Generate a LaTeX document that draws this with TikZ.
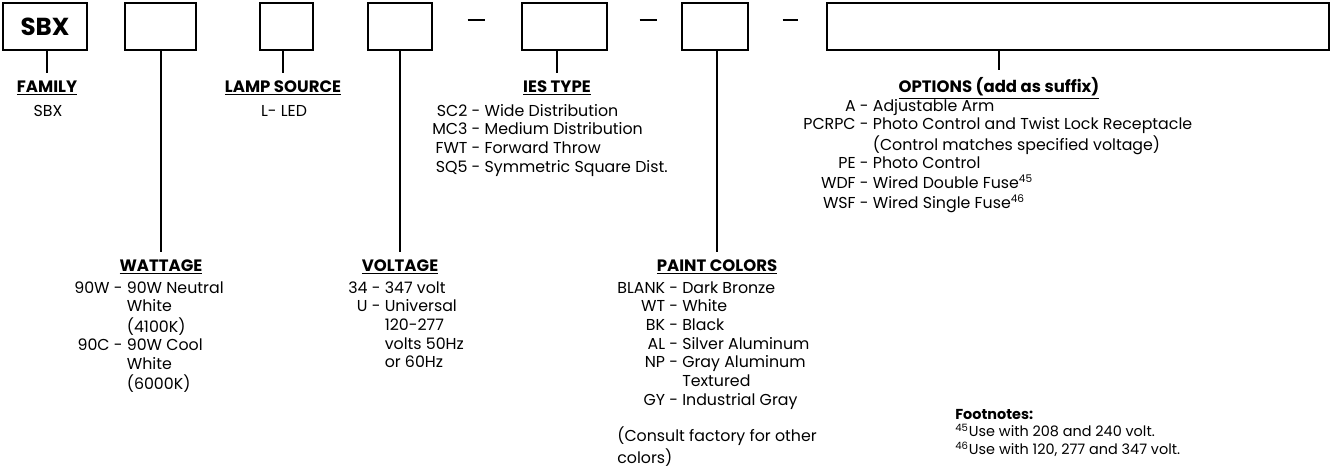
\documentclass[tikz,border=0pt]{standalone}
\usepackage{fontspec}
\setmainfont{Poppins}
\usetikzlibrary{positioning}

\newcommand\listfont{\fontsize{9}{10.66}\selectfont}
\newcommand\hdrfont{\fontsize{9.4}{10}\selectfont\bfseries}
\newcommand\notefont{\fontsize{8.2}{10.2}\selectfont}

\tikzset{
  codebox/.style={draw, line width=1.1pt, minimum height=47*0.02cm, inner sep=0pt},
  hdr/.style={font=\hdrfont, inner xsep=0pt, inner ysep=4pt, anchor=base},
  item/.style={font=\listfont, inner sep=0pt, anchor=base west},
  tick/.style={line width=0.8pt},
  longtick/.style={line width=1.4pt},
  dashmark/.style={inner sep=0pt}
}

\begin{document}
\begin{tikzpicture}[x=0.02cm, y=-0.02cm]
\useasboundingbox (0,0) rectangle (1330,474);

% code boxes
\node[codebox, minimum width=84*0.02cm, font=\fontsize{14}{14}\selectfont\bfseries] (famBox) at (45,26.5) {SBX};
\node[codebox, minimum width=71*0.02cm] (wattBox) at (160.5,26.5) {};
\node[codebox, minimum width=53*0.02cm] (lampBox) at (286.5,26.5) {};
\node[codebox, minimum width=64*0.02cm] (voltBox) at (400,26.5) {};
\node[dashmark] (dashA) at (476,20) {\rule{0.34cm}{0.04cm}};
\node[codebox, minimum width=85*0.02cm] (iesBox) at (564.5,26.5) {};
\node[dashmark] (dashB) at (648,20) {\rule{0.34cm}{0.04cm}};
\node[codebox, minimum width=66*0.02cm] (paintBox) at (715,26.5) {};
\node[dashmark] (dashC) at (790,20) {\rule{0.30cm}{0.04cm}};
\node[codebox, minimum width=502*0.02cm] (optBox) at (1078,26.5) {};

% headings
\node[hdr] (famT) at (47,92) {\underline{FAMILY}};
\node[hdr] (lampT) at (283,92) {\underline{LAMP SOURCE}};
\node[hdr] (iesT) at (557,92) {\underline{IES TYPE}};
\node[hdr] (optT) at (999,92) {\underline{OPTIONS (add as suffix)}};
\node[hdr] (wattT) at (161,271) {\underline{WATTAGE}};
\node[hdr] (voltT) at (400,271) {\underline{VOLTAGE}};
\node[hdr] (paintT) at (717,271) {\underline{PAINT COLORS}};

% connectors
\draw[tick] (famBox.south -| famT.north) -- (famT.north);
\draw[longtick] (wattBox.south -| wattT.north) -- (wattT.north);
\draw[tick] (lampBox.south -| lampT.north) -- (lampT.north);
\draw[longtick] (voltBox.south -| voltT.north) -- (voltT.north);
\draw[longtick] (iesBox.south -| iesT.north) -- (iesT.north);
\draw[tick] (paintBox.south -| paintT.north) -- (paintT.north);
\draw[tick] (optBox.south -| optT.north) -- (optT.north);

% lists
\node[item, anchor=base] (famL) at (48,116) {SBX};
\node[item, anchor=base] (lampL) at (284,116) {L- LED};
\node[item] (iesL) at (432,116) {\begin{tabular}[t]{@{}r@{\ }l@{}}
SC2 - & Wide Distribution\\
MC3 - & Medium Distribution\\
FWT - & Forward Throw\\
SQ5 - & Symmetric Square Dist.
\end{tabular}};
\node[item] (optL) at (803,111) {\begin{tabular}[t]{@{}r@{\ }l@{}}
A - & Adjustable Arm\\
PCRPC - & Photo Control and Twist Lock Receptacle\\
 & (Control matches specified voltage)\\
PE - & Photo Control\\
WDF - & Wired Double Fuse\textsuperscript{45}\\
WSF - & Wired Single Fuse\textsuperscript{46}
\end{tabular}};
\node[item] (wattL) at (74,293) {\begin{tabular}[t]{@{}r@{\ }l@{}}
90W - & 90W Neutral\\
 & White\\
 & (4100K)\\
90C - & 90W Cool\\
 & White\\
 & (6000K)
\end{tabular}};
\node[item] (voltL) at (348,293) {\begin{tabular}[t]{@{}r@{\ }l@{}}
34 - & 347 volt\\
U - & Universal\\
 & 120-277\\
 & volts 50Hz\\
 & or 60Hz
\end{tabular}};
\node[item] (paintL) at (617,293) {\begin{tabular}[t]{@{}r@{\ }l@{}}
BLANK - & Dark Bronze\\
WT - & White\\
BK - & Black\\
AL - & Silver Aluminum\\
NP - & Gray Aluminum\\
 & Textured\\
GY - & Industrial Gray
\end{tabular}};
\node[item] (paintN) at (617,441) {\begin{tabular}[t]{@{}l@{}}
(Consult factory for other\\[1.2pt]
colors)
\end{tabular}};

% footnotes
\node[item, font=\notefont] (notes) at (955,419) {\begin{tabular}[t]{@{}l@{}}
\textbf{Footnotes:}\\
\textsuperscript{45}Use with 208 and 240 volt.\\
\textsuperscript{46}Use with 120, 277 and 347 volt.
\end{tabular}};
\end{tikzpicture}
\end{document}
